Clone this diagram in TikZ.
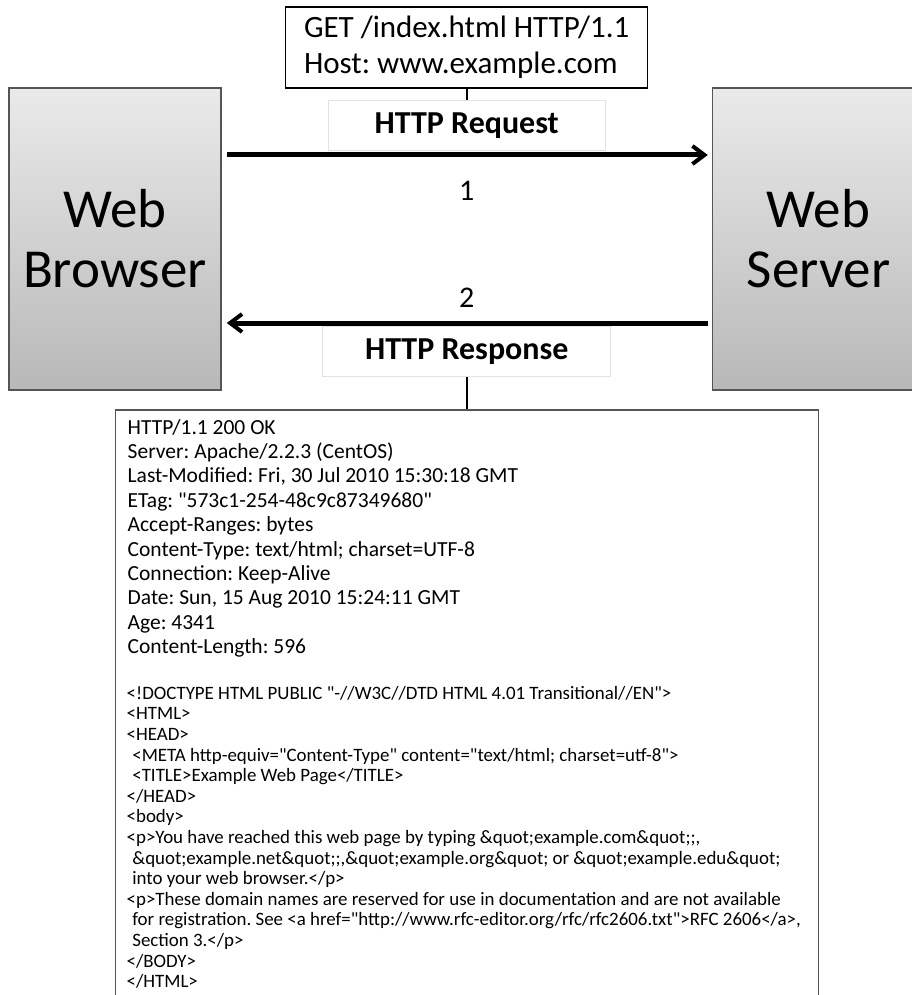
\documentclass[tikz,border=0pt]{standalone}
\usepackage{fontspec}
\setmainfont{Carlito}
\newfontfamily\calibri{Carlito}
\usetikzlibrary{arrows.meta,positioning,calc}
\definecolor{BoxTop}{RGB}{234,234,234}
\definecolor{BoxBot}{RGB}{184,184,184}
\definecolor{BoxLine}{RGB}{85,85,85}
\definecolor{TagLine}{RGB}{226,226,226}
\newcommand{\ind}{\hspace*{0.3em}}
\frenchspacing
\tikzset{
  host/.style={rectangle,draw=BoxLine,line width=1.5pt,top color=BoxTop,bottom color=BoxBot,
               minimum width=212pt,minimum height=302pt,align=center,
               font=\calibri\fontsize{55}{60}\selectfont},
  msg/.style={rectangle,draw=black,line width=1.3pt,fill=white,align=left,
              font=\calibri\fontsize{31}{36}\selectfont},
  tag/.style={rectangle,draw=TagLine,line width=1pt,fill=white,minimum height=50pt,
              font=\calibri\fontsize{32}{38}\selectfont\bfseries},
  num/.style={font=\calibri\fontsize{30}{36}\selectfont},
  flow/.style={-{Straight Barb[length=12pt,width=18pt,line width=4pt]},line width=5pt},
  lead/.style={line width=2pt},
  hdr/.style={align=left,inner sep=0pt,anchor=north west,
              font=\calibri\frenchspacing\fontsize{21.5}{24.4}\selectfont},
  body/.style={align=left,inner sep=0pt,anchor=north west,
               font=\calibri\frenchspacing\fontsize{18.9}{20.6}\selectfont},
}

\begin{document}
\begin{tikzpicture}[x=1pt,y=-1pt,node distance=490pt]
  \path[use as bounding box] (0,0) rectangle (912,995);
  \clip (0,0) rectangle (912,995);
  % the two end points
  \node[host] (brw) at (115,239) {Web\\Browser};
  \node[host,right=of brw] (srv) {Web\\Server};
  \coordinate (mid) at ($(brw.east)!0.5!(srv.west)$);
  % request
  \draw[flow] ([yshift=84pt,xshift=5pt]brw.east) -- ([yshift=84pt,xshift=-4pt]srv.west);
  \node[tag,minimum width=277pt] (reqtag) at ($(mid)+(0,-113)$) {HTTP Request};
  \node[msg,minimum width=362pt,minimum height=81pt] (req) at ($(mid)+(0,-191.5)$)
    {GET /index.html HTTP/1.1\\Host: www.example.com};
  \draw[lead] (req) -- (reqtag);
  \node[num] (one) at ($(mid)+(0,-48)$) {1};
  % response
  \draw[flow] ([yshift=-84pt,xshift=-4pt]srv.west) -- ([yshift=-84pt,xshift=5pt]brw.east);
  \node[num] (two) at ($(mid)+(0,59)$) {2};
  \node[tag,minimum width=288pt] (restag) at ($(mid)+(0,112.5)$) {HTTP Response};
  \node[rectangle,draw=BoxLine,line width=1.5pt,minimum width=703pt,minimum height=620pt,
        anchor=north] (res) at ($(mid)+(0,170)$) {};
  \draw[lead] (restag) -- (res);
  \node[hdr] (head) at ($(res.north west)+(13,10)$) {HTTP/1.1 200 OK\\
    Server: Apache/2.2.3 (CentOS)\\
    Last-Modified: Fri, 30 Jul 2010 15:30:18 GMT\\
    ETag: "573c1-254-48c9c87349680"\\
    Accept-Ranges: bytes\\
    Content-Type: text/html; charset=UTF-8\\
    Connection: Keep-Alive\\
    Date: Sun, 15 Aug 2010 15:24:11 GMT\\
    Age: 4341\\
    Content-Length: 596};
  \node[body] (html) at ($(res.north west)+(12,277)$) {<!DOCTYPE HTML PUBLIC "-//W3C//DTD HTML 4.01 Transitional//EN">\\
    <HTML>\\
    <HEAD>\\
    \ind<META http-equiv="Content-Type" content="text/html; charset=utf-8">\\
    \ind<TITLE>Example Web Page</TITLE>\\
    </HEAD>\\
    <body>\\
    <p>You have reached this web page by typing \&quot;example.com\&quot;;,\\
    \ind\&quot;example.net\&quot;;,\&quot;example.org\&quot; or \&quot;example.edu\&quot;\\
    \ind into your web browser.</p>\\
    <p>These domain names are reserved for use in documentation and are not available\\
    \ind for registration. See <a href="http://www.rfc-editor.org/rfc/rfc2606.txt">RFC 2606</a>,\\
    \ind Section 3.</p>\\
    </BODY>\\
    </HTML>};
\end{tikzpicture}
\end{document}
